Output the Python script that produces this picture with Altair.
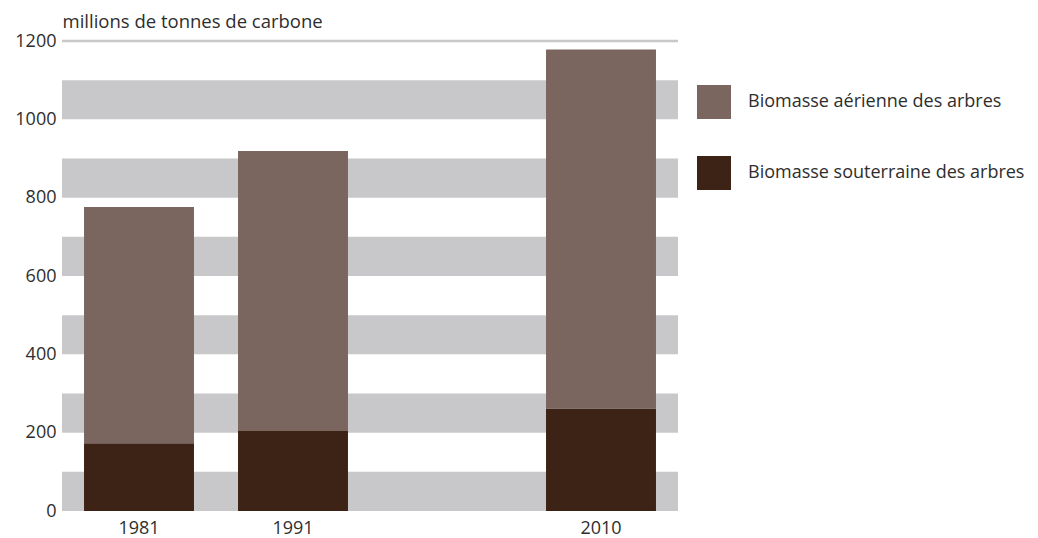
import altair as alt
import pandas as pd

years = ["1981", "1991", "2010"]
aerienne = [603, 715, 917]
souterraine = [173, 204, 261]
series = ["Biomasse aérienne des arbres", "Biomasse souterraine des arbres"]
colors = ["#7a665e", "#3d2316"]
band_start = [0, 200, 400, 600, 800, 1000]
band_end = [100, 300, 500, 700, 900, 1100]
x_domain = ["1981", "1991", " ", "2010"]
y_ticks = [0, 200, 400, 600, 800, 1000, 1200]

rows = []
for y, a, s in zip(years, aerienne, souterraine):
    rows.append({"annee": y, "serie": series[1], "valeur": s, "ordre": 0})
    rows.append({"annee": y, "serie": series[0], "valeur": a, "ordre": 1})
df = pd.DataFrame(rows)
bands = pd.DataFrame({"y0": band_start, "y1": band_end})
top = pd.DataFrame({"v": [1200]})

W, H = 616, 470
FONT = "Open Sans"
FS = 18
TXT = "#2e2e2e"

yscale = alt.Scale(domain=[0, 1200], nice=False)
yaxis = alt.Axis(values=y_ticks, format="d", grid=False, domain=False, ticks=False, labelPadding=6,
                 labelFontSize=FS, labelFont=FONT, labelColor=TXT,
                 title="millions de tonnes de carbone",
                 titleAngle=0, titleX=0, titleY=-14, titleAlign="left",
                 titleBaseline="alphabetic", titleFontSize=18.5, titleFont=FONT,
                 titleFontWeight="normal", titleColor=TXT)

band_layer = alt.Chart(bands).mark_rect(color="#c8c8ca").encode(
    x=alt.value(0), x2=alt.value(W),
    y=alt.Y("y0:Q", scale=yscale, axis=yaxis),
    y2="y1:Q",
)
top_layer = alt.Chart(top).mark_rule(color="#c8c8c8", strokeWidth=2.5).encode(
    x=alt.value(0), x2=alt.value(W),
    y=alt.Y("v:Q", scale=yscale, axis=yaxis),
)
bars = alt.Chart(df).mark_bar().encode(
    x=alt.X("annee:N", scale=alt.Scale(domain=x_domain, paddingInner=0.286, paddingOuter=0.143),
            axis=alt.Axis(title=None, labelAngle=0, domain=False, ticks=False, labelPadding=8,
                          labelFontSize=FS, labelFont=FONT, labelColor=TXT)),
    y=alt.Y("valeur:Q", stack="zero", scale=yscale, axis=yaxis),
    color=alt.Color("serie:N", scale=alt.Scale(domain=series, range=colors),
                    legend=alt.Legend(title=None, orient="none", legendX=635, legendY=44,
                                      symbolType="square", symbolSize=1156, symbolStrokeWidth=0,
                                      symbolOpacity=1, labelFontSize=FS, labelFont=FONT,
                                      labelColor=TXT, labelOffset=17, rowPadding=37,
                                      labelLimit=400)),
    order=alt.Order("ordre:Q"),
)

chart = alt.layer(band_layer, top_layer, bars).properties(
    width=W, height=H,
    autosize=alt.AutoSizeParams(type="none"),
    padding={"left": 54, "top": 33, "right": 350, "bottom": 29},
).configure_view(stroke=None)

chart.save("out.html", embed_options={"renderer": "svg", "actions": False})
